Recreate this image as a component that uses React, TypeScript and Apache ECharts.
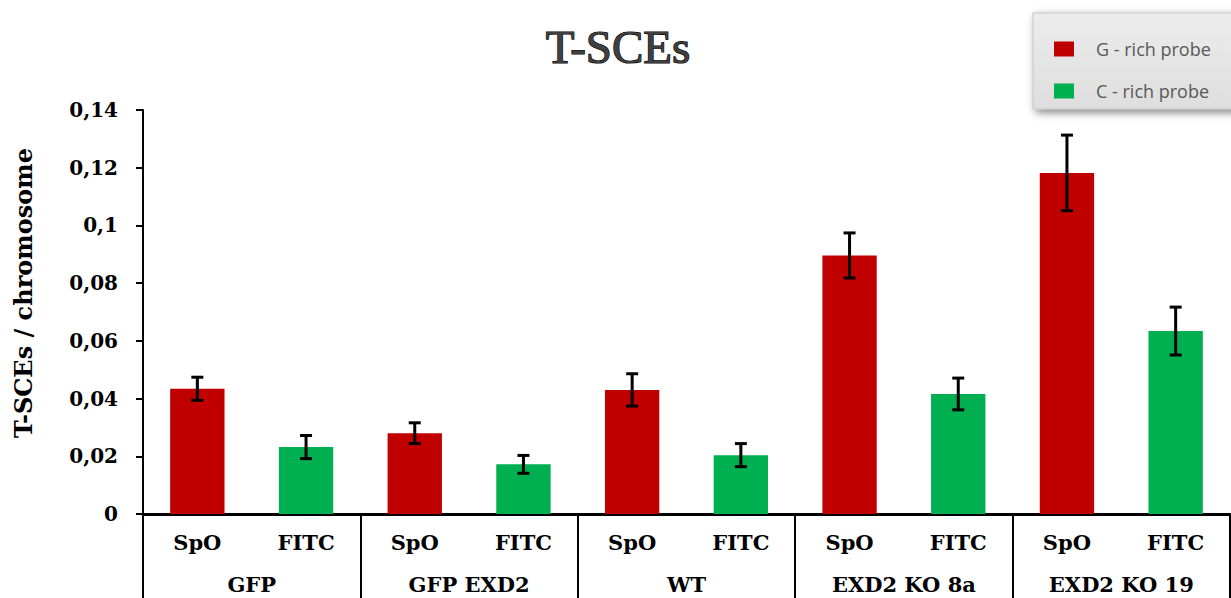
import React, { useEffect, useRef } from "react";
import * as echarts from "echarts";

const groups = ["GFP", "GFP EXD2", "WT", "EXD2 KO 8a", "EXD2 KO 19"];
const probes = ["SpO", "FITC"];
const seriesNames = ["G - rich probe", "C - rich probe"];
const gRich = [0.0434, 0.028, 0.043, 0.0896, 0.1182];
const gRichErr = [0.004, 0.0036, 0.0056, 0.0078, 0.0131];
const cRich = [0.0232, 0.0172, 0.0204, 0.0416, 0.0634];
const cRichErr = [0.004, 0.0031, 0.004, 0.0055, 0.0083];
const yTicks = { min: 0, max: 0.14, interval: 0.02 };

const SERIF = "'DejaVu Serif', 'Liberation Serif', serif";

export default function App() {
  const ref = useRef<HTMLDivElement>(null);
  useEffect(() => {
    if (!ref.current) return;
    const chart = echarts.init(ref.current, null, { renderer: "svg" });

    const cats: string[] = [];
    const gData: any[] = [];
    const cData: any[] = [];
    const errData: number[][] = [];
    groups.forEach((g, i) => {
      cats.push(g + "|" + probes[0]);
      cats.push(g + "|" + probes[1]);
      gData.push(gRich[i], "-");
      cData.push("-", cRich[i]);
      errData.push([2 * i, gRich[i], gRichErr[i]]);
      errData.push([2 * i + 1, cRich[i], cRichErr[i]]);
    });

    const labelStyle = {
      fontFamily: SERIF,
      fontWeight: "bold" as const,
      fontSize: 21,
      color: "#000",
    };

    chart.setOption({
      animation: false,
      backgroundColor: "#fff",
      graphic: [
        {
          type: "text",
          x: 618,
          y: 47,
          style: {
            text: "T-SCEs",
            fontFamily: "'Liberation Serif', serif",
            fontSize: 47,
            fill: "#3f3f3f",
            stroke: "#000",
            lineWidth: 1.2,
            textAlign: "center",
            textVerticalAlign: "middle",
          },
        },
      ],
      legend: {
        data: seriesNames,
        orient: "vertical",
        left: 1033,
        top: 13,
        padding: [27, 40, 9, 21],
        itemWidth: 20,
        itemHeight: 15,
        itemGap: 24,
        icon: "rect",
        backgroundColor: new echarts.graphic.LinearGradient(0, 0, 0, 1, [
          { offset: 0, color: "#ececec" },
          { offset: 1, color: "#dedede" },
        ]),
        borderColor: "#c4c4c4",
        borderWidth: 1,
        shadowBlur: 8,
        shadowColor: "rgba(0,0,0,0.5)",
        shadowOffsetX: 3,
        shadowOffsetY: 3,
        textStyle: {
          fontFamily: "'Open Sans', sans-serif",
          fontSize: 18,
          color: "#595959",
          padding: [0, 0, 0, 17],
        },
      },
      grid: {
        left: 143,
        right: 1,
        top: 110,
        bottom: 84,
        containLabel: false,
        outerBoundsMode: "none",
      },
      xAxis: [
        {
          type: "category",
          data: cats,
          axisLine: { lineStyle: { color: "#000", width: 3 } },
          axisTick: { show: false },
          axisLabel: {
            ...labelStyle,
            interval: 0,
            margin: 18,
            formatter: (v: string) => v.split("|")[1],
          },
          splitLine: { show: false },
        },
        {
          type: "category",
          data: groups,
          position: "bottom",
          axisLine: { show: false },
          axisTick: {
            show: true,
            interval: 0,
            length: 90,
            lineStyle: { color: "#000", width: 2 },
          },
          axisLabel: { ...labelStyle, interval: 0, margin: 60 },
          splitLine: { show: false },
        },
      ],
      yAxis: {
        type: "value",
        min: yTicks.min,
        max: yTicks.max,
        interval: yTicks.interval,
        name: "T-SCEs / chromosome",
        nameLocation: "middle",
        nameGap: 108,
        nameTextStyle: { ...labelStyle, fontSize: 24, padding: [0, 0, 0, 38] },
        axisLine: { show: true, lineStyle: { color: "#000", width: 2 } },
        axisTick: { show: true, length: 7, lineStyle: { color: "#000", width: 2 } },
        splitLine: { show: false },
        axisLabel: {
          ...labelStyle,
          fontSize: 20,
          margin: 25,
          formatter: (v: number) => String(+v.toFixed(2)).replace(".", ","),
        },
      },
      series: [
        {
          name: seriesNames[0],
          type: "bar",
          data: gData,
          barWidth: "50%",
          barGap: "-100%",
          itemStyle: { color: "#C00000" },
        },
        {
          name: seriesNames[1],
          type: "bar",
          data: cData,
          barWidth: "50%",
          barGap: "-100%",
          itemStyle: { color: "#00B050" },
        },
        {
          type: "custom",
          data: errData,
          z: 10,
          renderItem: (params: any, api: any) => {
            const x = api.value(0);
            const v = api.value(1);
            const e = api.value(2);
            const top = api.coord([x, v + e]);
            const bot = api.coord([x, v - e]);
            const hw = 6;
            const st = { stroke: "#000", lineWidth: 3 };
            return {
              type: "group",
              children: [
                { type: "line", shape: { x1: top[0], y1: top[1], x2: bot[0], y2: bot[1] }, style: st },
                { type: "line", shape: { x1: top[0] - hw, y1: top[1], x2: top[0] + hw, y2: top[1] }, style: st },
                { type: "line", shape: { x1: bot[0] - hw, y1: bot[1], x2: bot[0] + hw, y2: bot[1] }, style: st },
              ],
            };
          },
        },
      ],
    });
    return () => chart.dispose();
  }, []);
  return (
    <div
      ref={ref}
      style={{ position: "fixed", left: 0, top: 0, width: 1231, height: 598 }}
    />
  );
}
